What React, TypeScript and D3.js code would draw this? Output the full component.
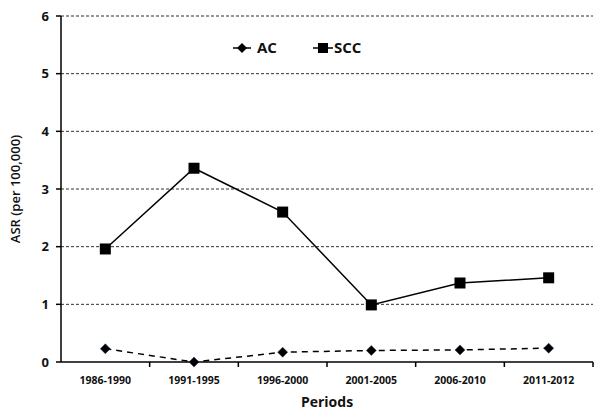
import React from 'react';
import * as d3 from 'd3';

const periods = ['1986-1990', '1991-1995', '1996-2000', '2001-2005', '2006-2010', '2011-2012'];
const acValues = [0.23, 0.0, 0.17, 0.2, 0.21, 0.24];
const sccValues = [1.96, 3.36, 2.6, 0.99, 1.37, 1.46];
const yTicks = [0, 1, 2, 3, 4, 5, 6];

const W = 600;
const H = 410;
const margin = { top: 16, right: 7, bottom: 48, left: 61 };
const font = "'Open Sans', 'Liberation Sans', sans-serif";

export default function App() {
  const innerW = W - margin.left - margin.right;
  const innerH = H - margin.top - margin.bottom;

  const x = d3.scaleBand().domain(periods).range([0, innerW]);
  const y = d3.scaleLinear().domain([0, 6]).range([innerH, 0]);
  const cx = (p: string) => (x(p) ?? 0) + x.bandwidth() / 2;

  const line = d3.line<number>()
    .x((_, i) => cx(periods[i]))
    .y(d => y(d));

  const diamond = d3.symbol().type(d3.symbolDiamond2).size(64)();

  return (
    <svg width={W} height={H} style={{ position: 'absolute', left: 0, top: 0, background: '#fff' }}>
      <g transform={`translate(${margin.left},${margin.top})`}>
        {/* gridlines */}
        {yTicks.filter(t => t > 0).map(t => (
          <line key={t} x1={0} x2={innerW} y1={y(t)} y2={y(t)}
            stroke="#333" strokeWidth={1} strokeDasharray="3,2" />
        ))}
        {/* y axis */}
        <line x1={0} x2={0} y1={0} y2={innerH} stroke="#000" strokeWidth={1.5} />
        {yTicks.map(t => (
          <g key={t} transform={`translate(0,${y(t)})`}>
            <line x1={-5} x2={0} stroke="#000" strokeWidth={1.5} />
            <text x={-12} dy="0.35em" textAnchor="end" fontFamily={font}
              fontWeight="bold" fontSize={13} fill="#111">{t}</text>
          </g>
        ))}
        {/* x axis */}
        <line x1={0} x2={innerW} y1={innerH} y2={innerH} stroke="#000" strokeWidth={1.5} />
        {periods.map((p, i) => (
          <g key={p}>
            <line x1={(x(p) ?? 0) + x.bandwidth()} x2={(x(p) ?? 0) + x.bandwidth()}
              y1={innerH} y2={innerH + 5} stroke="#000" strokeWidth={1.5} />
            <text x={cx(p)} y={innerH + 22} textAnchor="middle" fontFamily={font}
              fontWeight="bold" fontSize={10.5} fill="#111">{p}</text>
          </g>
        ))}
        {/* series */}
        <path d={line(sccValues) ?? ''} fill="none" stroke="#000" strokeWidth={1.5} />
        <path d={line(acValues) ?? ''} fill="none" stroke="#000" strokeWidth={1.5} strokeDasharray="6,5" />
        {sccValues.map((v, i) => (
          <rect key={i} x={cx(periods[i]) - 5.5} y={y(v) - 5.5} width={11} height={11} fill="#000" />
        ))}
        {acValues.map((v, i) => (
          <path key={i} d={diamond ?? ''} transform={`translate(${cx(periods[i])},${y(v)})`}
            fill="#000" stroke="#1f3a5f" strokeWidth={0.5} />
        ))}
      </g>
      {/* legend */}
      <g transform="translate(233,48)">
        <line x1={0} x2={18} y1={0} y2={0} stroke="#000" strokeWidth={1.5} />
        <path d={diamond ?? ''} transform="translate(9,0)" fill="#000" />
        <text x={24} dy="0.35em" fontFamily={font} fontWeight="bold" fontSize={15} fill="#111">AC</text>
        <line x1={80} x2={100} y1={0} y2={0} stroke="#000" strokeWidth={1.5} />
        <rect x={85} y={-5} width={10} height={10} fill="#000" />
        <text x={101} dy="0.35em" fontFamily={font} fontWeight="bold" fontSize={15} fill="#111">SCC</text>
      </g>
      {/* axis titles */}
      <text transform={`translate(20,${margin.top + innerH / 2}) rotate(-90)`} textAnchor="middle"
        fontFamily={font} fontWeight={600} fontSize={13} fill="#111">ASR (per 100,000)</text>
      <text x={margin.left + innerW / 2} y={407} textAnchor="middle"
        fontFamily={font} fontWeight="bold" fontSize={14} fill="#111">Periods</text>
    </svg>
  );
}
